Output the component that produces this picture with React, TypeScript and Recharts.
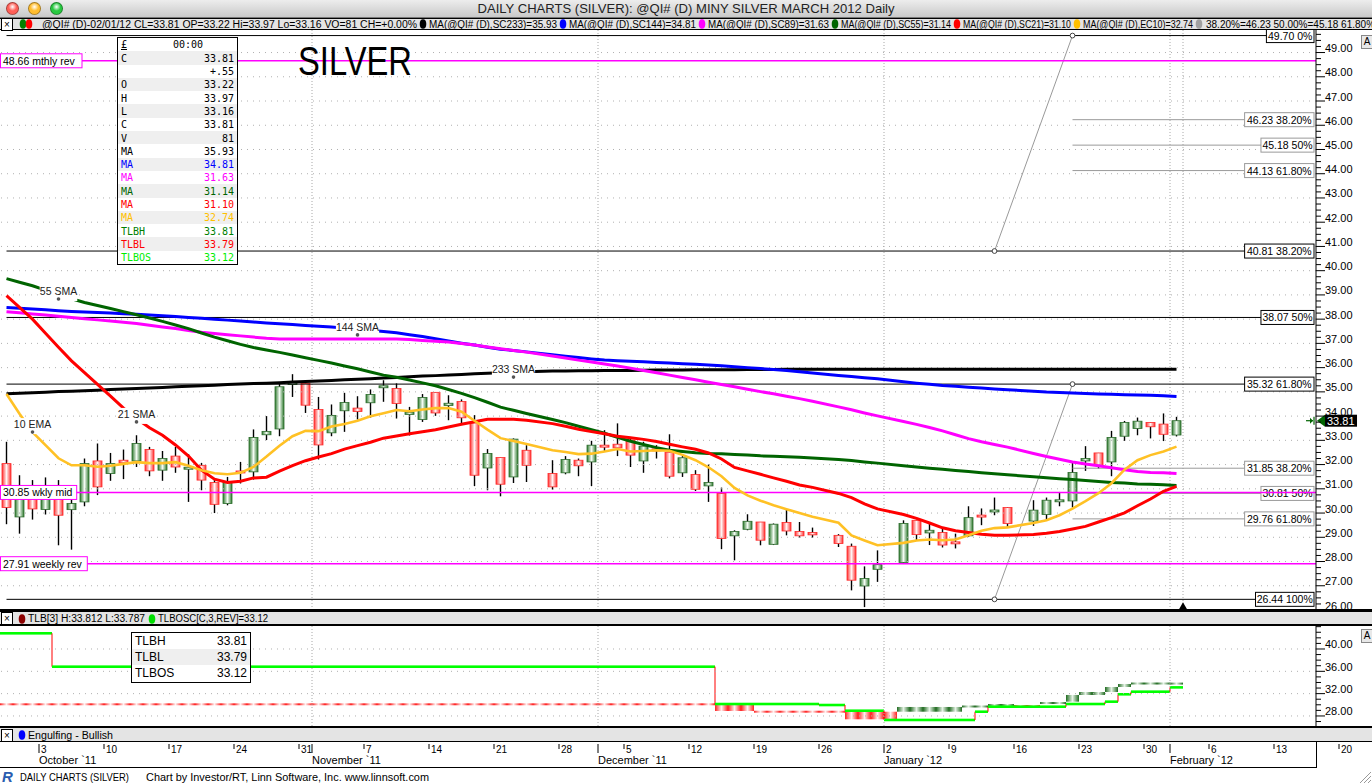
import React from 'react';
import { ComposedChart, Bar, Line, XAxis, YAxis, ReferenceLine, ReferenceDot } from 'recharts';

const FONT = '"Liberation Sans", Arial, sans-serif';
const MONO = '"DejaVu Sans Mono", monospace';

// one slot per weekday: slot 0 = Wed 28 Sep 2011, slot 90 = Wed 1 Feb 2012
// holiday slots (24 Nov, 26 Dec, 2 Jan, 16 Jan) stay empty
const opens = [
  32.04, 29.84, 30.64, 30.15, 30.64, 30.14, 30.46, 32.15, 31.63, 32.18,
  32.15, 32.62, 31.77, 32.35, 31.82, 31.97, 31.26, 30.39, 31.73, 31.70,
  33.23, 33.47, 35.32, 35.35, 34.27, 33.31, 34.22, 34.33, 34.55, 35.18,
  35.14, 34.07, 33.86, 34.98, 34.44, 34.60, 33.72, 31.86, 32.29, 31.49,
  32.59, null, 31.63, 31.66, 32.18, 32.11, 32.79, 32.84, 33.01, 32.15,
  32.64, 32.51, 31.66, 31.59, 31.12, 30.81, 29.06, 29.33, 29.63, 28.71,
  29.61, 29.24, 29.20, null, 29.08, 28.63, 26.99, 27.68, null, 27.96,
  29.70, 29.18, 29.20, 28.80, 29.06, 29.91, 30.05, 30.23, null, 29.67,
  29.94, 30.48, 30.50, 32.15, 32.48, 32.11, 33.17, 33.49, 33.74, 33.67,
  33.22,
];
const highs = [
  32.94, 31.56, 31.36, 31.47, 31.36, 30.67, 32.25, 32.87, 32.48, 32.62,
  33.21, 32.73, 32.56, 32.73, 32.43, 32.07, 31.36, 31.49, 32.11, 33.45,
  34.00, 35.37, 35.73, 35.48, 34.79, 34.48, 34.96, 34.82, 35.10, 35.48,
  35.35, 34.38, 34.91, 34.98, 34.86, 34.69, 34.04, 32.64, 32.29, 33.08,
  32.80, null, 32.18, 32.35, 32.25, 32.98, 33.42, 33.70, 33.14, 32.94,
  32.80, 33.25, 32.35, 31.77, 32.00, 31.05, 29.29, 29.95, 29.63, 29.57,
  30.15, 29.63, 29.40, null, 29.13, 28.74, 27.80, 28.46, null, 29.70,
  29.70, 29.63, 29.43, 29.15, 30.28, 30.19, 30.64, 30.25, null, 30.53,
  30.64, 30.87, 32.11, 32.76, 32.48, 33.39, 33.80, 33.94, 33.74, 34.11,
  33.97,
];
const lows = [
  29.54, 29.15, 29.73, 29.94, 28.67, 28.49, 30.28, 30.74, 31.33, 31.40,
  31.90, 31.52, 31.33, 31.66, 30.46, 30.94, 30.00, 30.32, 31.22, 31.38,
  33.01, 33.17, 34.79, 34.13, 32.21, 33.17, 33.35, 33.86, 33.94, 34.59,
  33.90, 33.20, 33.76, 34.01, 33.83, 33.63, 31.11, 30.94, 30.69, 31.24,
  31.28, null, 30.97, 31.60, 31.52, 31.11, 32.52, 32.35, 31.90, 31.66,
  32.25, 31.43, 31.49, 30.91, 30.46, 28.51, 28.05, 29.29, 28.67, 28.68,
  29.08, 28.97, 28.99, null, 28.60, 26.81, 26.12, 27.16, null, 27.94,
  28.88, 28.68, 28.58, 28.54, 29.01, 29.50, 29.91, 29.39, null, 29.47,
  29.70, 30.28, 30.23, 31.74, 31.84, 31.52, 32.98, 33.21, 33.08, 32.97,
  33.16,
];
const closes = [
  30.23, 30.64, 30.17, 30.64, 29.91, 30.39, 32.04, 31.08, 32.04, 32.07,
  32.87, 31.74, 32.25, 31.90, 31.88, 31.36, 30.36, 31.26, 31.66, 33.12,
  33.37, 35.21, 35.37, 34.45, 32.81, 34.03, 34.56, 34.19, 34.89, 35.24,
  34.52, 34.16, 34.77, 34.13, 34.53, 33.93, 31.56, 32.46, 31.19, 33.05,
  31.97, null, 31.08, 32.21, 31.95, 32.80, 32.73, 32.69, 32.39, 32.76,
  32.57, 31.52, 32.28, 30.98, 31.26, 28.95, 29.24, 29.66, 28.88, 29.54,
  29.26, 29.06, 29.10, null, 28.74, 27.23, 27.30, 27.87, null, 29.57,
  29.11, 29.29, 28.68, 28.74, 29.81, 29.84, 30.12, 29.57, null, 30.12,
  30.53, 30.53, 31.67, 32.25, 31.97, 33.12, 33.74, 33.79, 33.56, 33.25,
  33.81,
];
const ema10 = [
  34.91, 34.10, 33.34, 32.80, 32.26, 31.97, 31.97, 31.91, 31.95, 32.03,
  32.10, 32.06, 32.06, 32.10, 31.95, 31.77, 31.64, 31.60, 31.66, 31.90,
  32.33, 32.78, 33.17, 33.39, 33.38, 33.57, 33.67, 33.81, 33.99, 34.12,
  34.25, 34.20, 34.27, 34.33, 34.33, 34.18, 33.81, 33.44, 33.09, 32.97,
  32.85, null, 32.59, 32.52, 32.43, 32.45, 32.54, 32.64, 32.54, 32.56,
  32.59, 32.57, 32.40, 32.18, 31.89, 31.52, 31.04, 30.73, 30.51, 30.32,
  30.16, 30.00, 29.85, null, 29.60, 29.08, 28.87, 28.67, null, 28.77,
  28.87, 28.91, 28.88, 28.91, 29.08, 29.27, 29.38, 29.41, null, 29.59,
  29.70, 29.91, 30.18, 30.49, 30.82, 31.23, 31.79, 32.18, 32.39, 32.54,
  32.74,
];
const sma21 = [
  38.97, 38.49, 38.00, 37.42, 36.84, 36.28, 35.79, 35.31, 34.82, 34.33,
  33.90, 33.52, 33.21, 32.81, 32.35, 31.77, 31.40, 31.26, 31.31, 31.45,
  31.48, 31.73, 31.96, 32.16, 32.31, 32.45, 32.64, 32.78, 32.92, 33.09,
  33.18, 33.27, 33.35, 33.44, 33.55, 33.66, 33.77, 33.87, 33.87, 33.87,
  33.83, null, 33.69, 33.58, 33.46, 33.36, 33.27, 33.17, 33.11, 33.04,
  32.95, 32.84, 32.73, 32.63, 32.48, 32.23, 31.88, 31.74, 31.60, 31.45,
  31.31, 31.16, 31.06, null, 30.81, 30.64, 30.38, 30.17, null, 29.94,
  29.78, 29.59, 29.39, 29.27, 29.20, 29.13, 29.08, 29.08, null, 29.12,
  29.17, 29.24, 29.34, 29.45, 29.63, 29.81, 30.01, 30.30, 30.58, 30.90,
  31.10,
];
const sma55 = [
  39.67, 39.52, 39.38, 39.20, 39.02, 38.84, 38.69, 38.56, 38.44, 38.31,
  38.18, 38.05, 37.91, 37.76, 37.61, 37.43, 37.26, 37.11, 36.96, 36.83,
  36.73, 36.63, 36.52, 36.41, 36.30, 36.19, 36.07, 35.95, 35.82, 35.69,
  35.60, 35.49, 35.37, 35.25, 35.10, 34.94, 34.76, 34.57, 34.37, 34.24,
  34.11, null, 33.86, 33.73, 33.58, 33.44, 33.29, 33.12, 32.96, 32.83,
  32.70, 32.59, 32.54, 32.49, 32.46, 32.45, 32.42, 32.40, 32.36, 32.34,
  32.32, 32.30, 32.27, null, 32.21, 32.17, 32.11, 32.06, null, 31.95,
  31.90, 31.85, 31.81, 31.76, 31.71, 31.66, 31.62, 31.58, null, 31.50,
  31.46, 31.42, 31.38, 31.34, 31.30, 31.26, 31.24, 31.20, 31.19, 31.17,
  31.14,
];
const sma89 = [
  38.31, 38.26, 38.21, 38.17, 38.12, 38.07, 38.02, 37.97, 37.92, 37.87,
  37.82, 37.75, 37.68, 37.61, 37.53, 37.46, 37.41, 37.36, 37.31, 37.26,
  37.21, 37.18, 37.18, 37.18, 37.18, 37.18, 37.18, 37.18, 37.18, 37.18,
  37.18, 37.16, 37.12, 37.09, 37.06, 37.00, 36.93, 36.85, 36.78, 36.71,
  36.64, null, 36.48, 36.40, 36.31, 36.23, 36.15, 36.07, 35.98, 35.88,
  35.79, 35.69, 35.59, 35.50, 35.40, 35.30, 35.21, 35.11, 35.01, 34.92,
  34.82, 34.72, 34.61, null, 34.38, 34.26, 34.13, 34.01, null, 33.78,
  33.66, 33.53, 33.39, 33.23, 33.07, 32.94, 32.83, 32.72, null, 32.46,
  32.33, 32.22, 32.11, 32.02, 31.95, 31.87, 31.79, 31.71, 31.67, 31.66,
  31.63,
];
const sma144 = [
  38.48, 38.45, 38.42, 38.39, 38.35, 38.32, 38.30, 38.27, 38.25, 38.22,
  38.20, 38.17, 38.14, 38.11, 38.07, 38.04, 38.00, 37.96, 37.92, 37.88,
  37.84, 37.81, 37.78, 37.74, 37.71, 37.68, 37.63, 37.59, 37.54, 37.49,
  37.44, 37.36, 37.28, 37.19, 37.10, 37.01, 36.93, 36.84, 36.76, 36.71,
  36.65, null, 36.53, 36.47, 36.42, 36.36, 36.31, 36.28, 36.26, 36.24,
  36.21, 36.19, 36.16, 36.14, 36.11, 36.08, 36.04, 36.00, 35.96, 35.92,
  35.88, 35.83, 35.78, null, 35.68, 35.63, 35.58, 35.54, null, 35.42,
  35.36, 35.31, 35.26, 35.23, 35.19, 35.16, 35.12, 35.09, null, 35.03,
  34.99, 34.97, 34.95, 34.93, 34.91, 34.90, 34.88, 34.87, 34.86, 34.84,
  34.81,
];
const sma233 = [
  34.92, 34.94, 34.96, 34.98, 35.01, 35.03, 35.05, 35.07, 35.10, 35.12,
  35.14, 35.16, 35.18, 35.21, 35.23, 35.25, 35.27, 35.30, 35.32, 35.34,
  35.36, 35.38, 35.41, 35.43, 35.45, 35.47, 35.50, 35.52, 35.54, 35.57,
  35.59, 35.62, 35.65, 35.67, 35.70, 35.72, 35.75, 35.77, 35.79, 35.81,
  35.83, null, 35.86, 35.86, 35.87, 35.87, 35.88, 35.88, 35.88, 35.89,
  35.90, 35.90, 35.90, 35.91, 35.91, 35.91, 35.91, 35.92, 35.92, 35.92,
  35.93, 35.93, 35.93, null, 35.93, 35.93, 35.93, 35.93, null, 35.93,
  35.93, 35.93, 35.93, 35.93, 35.93, 35.93, 35.93, 35.93, null, 35.93,
  35.93, 35.93, 35.93, 35.93, 35.93, 35.93, 35.93, 35.93, 35.93, 35.93,
  35.93,
];

// three line break bricks: [first slot, last slot, low, high, up]
const tlbBricks = [
  [0, 54, 30.09, 30.09, false],
  [55, 57, 28.89, 29.96, false],
  [58, 64, 28.76, 28.76, false],
  [65, 68, 27.40, 28.76, false],
  [69, 73, 28.76, 29.61, true],
  [74, 75, 29.61, 29.78, true],
  [76, 77, 29.78, 30.14, true],
  [78, 79, 29.61, 29.96, false],
  [80, 81, 30.14, 30.50, true],
  [82, 82, 30.56, 31.76, true],
  [83, 84, 31.76, 32.29, true],
  [85, 85, 32.29, 33.19, true],
  [86, 86, 33.19, 33.73, true],
  [87, 89, 33.73, 33.90, true],
  [90, 90, 33.79, 33.81, true],
];
// TLB oscillator steps: [first slot, last slot, value]
const tlbosSteps = [
  [0, 3, 42.81], [4, 54, 36.83], [55, 62, 30.14], [63, 64, 29.96], [65, 67, 28.94],
  [68, 74, 27.28], [75, 75, 28.76], [76, 81, 29.66], [82, 84, 30.14], [85, 85, 30.56],
  [86, 86, 31.88], [87, 89, 32.35], [90, 90, 33.12],
];

const priceMajor = [26, 27, 28, 29, 30, 31, 32, 33, 34, 35, 36, 37, 38, 39, 40, 41, 42, 43, 44, 45, 46, 47, 48, 49];
const priceTicks = priceMajor.flatMap((v) => [v, v + 0.25, v + 0.5, v + 0.75]);
const tlbTicks = [27, 28, 29, 30, 31, 32, 33, 34, 35, 36, 37, 38, 39, 40, 41, 42, 43, 44];
const tlbMajor = [28, 32, 36, 40];

const weekTicks = [2.5, 7.5, 12.5, 17.5, 22.5, 27.5, 32.5, 37.5, 42.5, 47.5, 52.5, 57.5, 62.5, 67.5, 72.5, 77.5, 82.5, 87.5, 92.5, 97.5, 102.5];
const dayLabels = ['3', '10', '17', '24', '31', '7', '14', '21', '28', '5', '12', '19', '26', '2', '9', '16', '23', '30', '6', '13', '20'];
const monthTicks = [2.5, 23.5, 45.5, 67.5, 89.5];
const monthLabels = ['October `11', 'November `11', 'December `11', 'January `12', 'February `12'];
const monthLines = [23.5, 45.5, 67.5, 89.5, 90.5];

const blackFibs: [number, string][] = [[49.7, '49.70 0%'], [40.81, '40.81 38.20%'], [38.07, '38.07 50%'], [35.32, '35.32 61.80%'], [26.44, '26.44 100%']];
const grayFibs: [number, string][] = [[46.23, '46.23 38.20%'], [45.18, '45.18 50%'], [44.13, '44.13 61.80%'], [31.85, '31.85 38.20%'], [30.81, '30.81 50%'], [29.76, '29.76 61.80%']];
const pivots: [number, string][] = [[48.66, '48.66 mthly rev'], [30.85, '30.85 wkly mid'], [27.91, '27.91 weekly rev']];
const fibSwings = [[[76, 40.81], [82, 49.7]], [[76, 26.44], [82, 35.32]]];
const maTags: [number, number, string][] = [[4, 38.83, '55 SMA'], [27, 37.35, '144 SMA'], [39, 35.61, '233 SMA'], [10, 33.76, '21 SMA'], [2, 33.34, '10 EMA']];

const priceRows = opens.map((o, j) => ({
  j, o, h: highs[j], l: lows[j], c: closes[j],
  ema10: ema10[j], sma21: sma21[j], sma55: sma55[j], sma89: sma89[j], sma144: sma144[j], sma233: sma233[j],
}));

const tlbRows: any[] = [];
tlbBricks.forEach(([a, b, lo, hi, up]: any) => {
  for (let j = a; j <= b; j++) tlbRows[j] = { j, lo, hi, up };
});
tlbosSteps.forEach(([a, b, v]) => {
  for (let j = a; j <= b; j++) tlbRows[j].os = v;
});
tlbRows.forEach((r, j) => { r.prev = j === 0 ? r.os : tlbRows[j - 1].os; });

const dayByTick: Record<string, string> = {};
weekTicks.forEach((t, i) => { dayByTick[t] = dayLabels[i]; });
const monthByTick: Record<string, string> = {};
monthTicks.forEach((t, i) => { monthByTick[t] = monthLabels[i]; });
const dateTicks = Array.from(new Set([...weekTicks, ...monthTicks])).sort((a, b) => a - b);

function Candle(props: any) {
  const { x, y, width, height, payload } = props;
  if (!payload || payload.h == null) return null;
  const top = Math.min(y, y + height);
  const span = Math.abs(height);
  const { o, h, l, c } = payload;
  const py = (v: number) => top + ((h - v) / (h - l)) * span;
  const cx = x + width / 2;
  const up = c >= o;
  const bt = py(Math.max(o, c));
  const bb = py(Math.min(o, c));
  const thin = bb - bt < 2;
  return (
    <g>
      <line x1={cx} x2={cx} y1={top} y2={top + span} stroke="#000" strokeWidth={1.4} />
      <rect x={cx - 4.5} y={thin ? (bt + bb) / 2 - 1 : bt} width={9} height={thin ? 2 : bb - bt}
        fill={up ? 'url(#gUp)' : 'url(#gDn)'} stroke={up ? '#2b6b2b' : '#ff2a2a'} strokeWidth={0.8} />
    </g>
  );
}

function Brick(props: any) {
  const { x, y, width, height, payload } = props;
  const top = Math.min(y, y + height);
  const span = Math.abs(height);
  const thin = span < 2;
  return <rect x={x} y={thin ? top + span / 2 - 1 : top} width={width} height={thin ? 2 : span} fill={payload.up ? 'url(#bUp)' : 'url(#bDn)'} />;
}

function OscStep(props: any) {
  const { x, y, width, height, payload } = props;
  const top = Math.min(y, y + height);
  const span = Math.abs(height);
  const ly = payload.os >= payload.prev ? top : top + span;
  return (
    <g>
      {span > 1 && <line x1={x} x2={x} y1={top} y2={top + span} stroke="#ff0000" strokeWidth={1} />}
      <line x1={x} x2={x + width} y1={ly} y2={ly} stroke="#00ff00" strokeWidth={2.6} />
    </g>
  );
}

function PriceTick(props: any) {
  const { x, y, payload } = props;
  const v = payload.value;
  const major = Math.abs(v - Math.round(v)) < 0.01;
  return (
    <g>
      <line x1={x} x2={x + (major ? 9 : 5)} y1={y} y2={y} stroke="#000" />
      {major && <text x={x + 9} y={y - 0.5} fontSize={11} fontFamily={FONT} fill="#000">{v.toFixed(2)}</text>}
    </g>
  );
}

function TlbTick(props: any) {
  const { x, y, payload } = props;
  const v = payload.value;
  const major = tlbMajor.includes(v);
  return (
    <g>
      <line x1={x} x2={x + (major ? 9 : 5)} y1={y} y2={y} stroke="#000" />
      {major && <text x={x + 9} y={y - 0.5} fontSize={11} fontFamily={FONT} fill="#000">{v.toFixed(2)}</text>}
    </g>
  );
}

function DateTick(props: any) {
  const { x, y, payload } = props;
  const v = payload.value;
  const day = dayByTick[v];
  const month = monthByTick[v];
  return (
    <g>
      <line x1={x} x2={x} y1={y + 18} y2={y + (month ? 27 : 23)} stroke="#000" />
      {day && <text x={x + 2} y={y + 27} fontSize={10} fontFamily={FONT} fill="#000">{day}</text>}
      {month && <text x={x} y={y + 38} fontSize={11} fontFamily={FONT} fill="#000">{month}</text>}
    </g>
  );
}

function RightTag(props: any) {
  const { viewBox, text, color } = props;
  const right = viewBox.x + viewBox.width + 1;
  const y = viewBox.y;
  const w = text.length * 5.45 + 4;
  return (
    <g>
      <rect x={right - w} y={y - 7} width={w} height={14} fill="#fff" stroke={color} />
      <text x={right - w / 2} y={y + 4} textAnchor="middle" fontSize={10.5} fontFamily={FONT} fill="#000">{text}</text>
    </g>
  );
}

function LeftTag(props: any) {
  const { viewBox, text } = props;
  const w = text.length * 5.3 + 2;
  return (
    <g>
      <rect x={viewBox.x + 0.5} y={viewBox.y - 7} width={w} height={14} fill="#fff" stroke="#ff00ff" />
      <text x={viewBox.x + 3} y={viewBox.y + 4} fontSize={10.5} fontFamily={FONT} fill="#000">{text}</text>
    </g>
  );
}

function MaTag(props: any) {
  const { cx, cy, text } = props;
  const w = text.length * 5.6 + 4;
  return (
    <g>
      <rect x={cx - w / 2} y={cy - 14} width={w} height={16} fill="#fff" />
      <text x={cx} y={cy - 4} textAnchor="middle" fontSize={10.5} fontFamily={FONT} fill="#222">{text}</text>
      <circle cx={cx} cy={cy} r={1.8} fill="#555" />
    </g>
  );
}

function LastPrice(props: any) {
  const { cx, cy } = props;
  return (
    <g>
      <line x1={cx - 7} x2={cx} y1={cy} y2={cy} stroke="#006400" strokeWidth={1.2} />
      <line x1={cx + 1} x2={cx + 1} y1={cy - 4} y2={cy + 4} stroke="#006400" strokeWidth={1.2} />
      <polygon points={`${cx - 3},${cy - 3} ${cx},${cy} ${cx - 3},${cy + 3}`} fill="#006400" />
      <polygon points={`${cx + 4},${cy} ${cx + 12},${cy - 6} ${cx + 12},${cy + 6}`} fill="#006400" />
      <rect x={cx + 12} y={cy - 6} width={32} height={12} fill="#000" />
      <text x={cx + 14} y={cy + 4} fontSize={11} fontFamily={FONT} fill="#fff">33.81</text>
    </g>
  );
}

function NowMark(props: any) {
  const { cx, cy } = props;
  return <polygon points={`${cx},${cy - 4} ${cx - 4},${cy + 3} ${cx + 4},${cy + 3}`} fill="#000" />;
}

function AnchorDot(props: any) {
  return <circle cx={props.cx} cy={props.cy} r={2.4} fill="#fff" stroke="#444" strokeWidth={1} />;
}

function MainChart() {
  return (
    <ComposedChart width={1372} height={580} data={priceRows} margin={{ top: 0, right: 0, bottom: 0, left: 0 }}>
      <XAxis xAxisId="x" type="number" dataKey="j" domain={[-0.5, 100.73]} hide allowDataOverflow />
      <YAxis yAxisId="p" orientation="right" type="number" domain={[26, 49.93]} allowDataOverflow ticks={priceTicks}
        interval={0} width={56} tickSize={0} tickMargin={0} tickLine={false} axisLine={{ stroke: '#000' }} tick={<PriceTick />} />
      {priceMajor.slice(1).map((v) => (
        <ReferenceLine key={'g' + v} xAxisId="x" yAxisId="p" y={v} stroke="#b0b0b0" strokeDasharray="1 5" />
      ))}
      {monthLines.map((v) => (
        <ReferenceLine key={'m' + v} xAxisId="x" yAxisId="p" x={v} stroke="#a8a8a8" strokeDasharray="1 2" />
      ))}
      {grayFibs.map(([v, t]) => (
        <ReferenceLine key={'gf' + v} xAxisId="x" yAxisId="p" segment={[{ x: 82, y: v }, { x: 100.5, y: v }]}
          stroke="#9a9a9a" label={<RightTag text={t} color="#9a9a9a" />} />
      ))}
      {blackFibs.map(([v, t]) => (
        <ReferenceLine key={'bf' + v} xAxisId="x" yAxisId="p" segment={[{ x: 0, y: v }, { x: 100.5, y: v }]}
          stroke="#000" label={<RightTag text={t} color="#000" />} />
      ))}
      {fibSwings.map((s, i) => (
        <ReferenceLine key={'sw' + i} xAxisId="x" yAxisId="p" segment={[{ x: s[0][0], y: s[0][1] }, { x: s[1][0], y: s[1][1] }]} stroke="#999" />
      ))}
      {pivots.map(([v, t]) => (
        <ReferenceLine key={'pv' + v} xAxisId="x" yAxisId="p" y={v} stroke="#ff00ff" strokeWidth={1.5} label={<LeftTag text={t} />} />
      ))}
      <Line xAxisId="x" yAxisId="p" dataKey="sma233" stroke="#000" strokeWidth={3} dot={false} connectNulls isAnimationActive={false} />
      <Line xAxisId="x" yAxisId="p" dataKey="sma144" stroke="#0000ff" strokeWidth={3} dot={false} connectNulls isAnimationActive={false} />
      <Line xAxisId="x" yAxisId="p" dataKey="sma89" stroke="#ff00ff" strokeWidth={3} dot={false} connectNulls isAnimationActive={false} />
      <Line xAxisId="x" yAxisId="p" dataKey="sma55" stroke="#006400" strokeWidth={3} dot={false} connectNulls isAnimationActive={false} />
      <Line xAxisId="x" yAxisId="p" dataKey="sma21" stroke="#ff0000" strokeWidth={3} dot={false} connectNulls isAnimationActive={false} />
      <Line xAxisId="x" yAxisId="p" dataKey="ema10" stroke="#ffc125" strokeWidth={2.6} dot={false} connectNulls isAnimationActive={false} />
      <Bar xAxisId="x" yAxisId="p" dataKey={(d: any) => (d.h == null ? null : [d.l, d.h])} barSize={9}
        shape={<Candle />} isAnimationActive={false} />
      {maTags.map(([j, v, t]) => (
        <ReferenceDot key={t} xAxisId="x" yAxisId="p" x={j} y={v} shape={(p: any) => <MaTag {...p} text={t} />} />
      ))}
      {fibSwings.flat().map((p, i) => (
        <ReferenceDot key={'a' + i} xAxisId="x" yAxisId="p" x={p[0]} y={p[1]} shape={<AnchorDot />} />
      ))}
      <ReferenceDot xAxisId="x" yAxisId="p" x={100.5} y={33.81} shape={<LastPrice />} />
      <ReferenceDot xAxisId="x" yAxisId="p" x={90.5} y={26.15} shape={<NowMark />} />
    </ComposedChart>
  );
}

function TlbChart() {
  return (
    <ComposedChart width={1372} height={142} data={tlbRows} margin={{ top: 0, right: 0, bottom: 0, left: 0 }}>
      <XAxis xAxisId="d" type="number" dataKey="j" domain={[-0.5, 100.73]} allowDataOverflow ticks={dateTicks} interval={0}
        height={42} tickSize={0} tickMargin={0} tickLine={false} axisLine={false} tick={<DateTick />} />
      <XAxis xAxisId="b" type="number" dataKey="j" domain={[-0.5, 100.73]} allowDataOverflow hide height={0} />
      <YAxis yAxisId="t" orientation="right" type="number" domain={[26.2, 44.12]} allowDataOverflow ticks={tlbTicks}
        interval={0} width={56} tickSize={0} tickMargin={0} tickLine={false} axisLine={{ stroke: '#000' }} tick={<TlbTick />} />
      {tlbMajor.map((v) => (
        <ReferenceLine key={'g' + v} xAxisId="d" yAxisId="t" y={v} stroke="#b0b0b0" strokeDasharray="1 5" />
      ))}
      {monthLines.slice(0, 4).map((v) => (
        <ReferenceLine key={'m' + v} xAxisId="d" yAxisId="t" x={v} stroke="#a8a8a8" strokeDasharray="1 2" />
      ))}
      <Bar xAxisId="d" yAxisId="t" dataKey={(d: any) => [d.lo - 0.0001, d.hi]} barSize={13} shape={<Brick />} isAnimationActive={false} />
      <Bar xAxisId="b" yAxisId="t" dataKey={(d: any) => [Math.min(d.os, d.prev) - 0.0001, Math.max(d.os, d.prev)]} barSize={13}
        shape={<OscStep />} isAnimationActive={false} />
    </ComposedChart>
  );
}

const legendRows: [string, string, string][] = [
  ['C', '33.81', '#000'], ['', '+.55', '#000'], ['O', '33.22', '#000'], ['H', '33.97', '#000'], ['L', '33.16', '#000'],
  ['C', '33.81', '#000'], ['V', '81', '#000'], ['MA', '35.93', '#000'], ['MA', '34.81', '#0000ff'], ['MA', '31.63', '#ff00ff'],
  ['MA', '31.14', '#006400'], ['MA', '31.10', '#ff0000'], ['MA', '32.74', '#ffc000'], ['TLBH', '33.81', '#008000'],
  ['TLBL', '33.79', '#ff0000'], ['TLBOS', '33.12', '#00ee00'],
];

// header bar entries: [dot x, text start, text end, dot colour, text]
const headerItems: [number | null, number, number | null, string | null, string][] = [
  [null, 42, 417, null, '@QI# (D)-02/01/12 CL=33.81 OP=33.22 Hi=33.97 Lo=33.16 VO=81 CH=+0.00%'],
  [423, 429, 557, '#000', 'MA(@QI# (D),SC233)=35.93'],
  [563, 569, 696, '#0000ff', 'MA(@QI# (D),SC144)=34.81'],
  [702, 708, 829, '#ff00ff', 'MA(@QI# (D),SC89)=31.63'],
  [835, 841, 951, '#006400', 'MA(@QI# (D),SC55)=31.14'],
  [957, 963, 1071, '#ff0000', 'MA(@QI# (D),SC21)=31.10'],
  [1077, 1083, 1193, '#ffc000', 'MA(@QI# (D),EC10)=32.74'],
  [1199, 1206, null, '#a0a0a0', '38.20%=46.23 50.00%=45.18 61.80%=44.13'],
];

const abs = (l: number, t: number, w: number, h: number, extra: any = {}) =>
  ({ position: 'absolute' as const, left: l, top: t, width: w, height: h, ...extra });

function XBox({ y }: { y: number }) {
  return (
    <div style={abs(1, y, 10, 11, { border: '1px solid #000', background: '#fff', fontSize: 10, lineHeight: '11px', textAlign: 'center', fontFamily: FONT })}>×</div>
  );
}

function ABox({ y }: { y: number }) {
  return (
    <div style={abs(1361, y, 10, 12, { border: '1px solid #888', background: '#e8e8e8', fontSize: 10, lineHeight: '12px', textAlign: 'center', fontFamily: FONT })}>A</div>
  );
}

function T({ x, y, s, size = 10, w, fill = '#000', ...rest }: any) {
  return (
    <text x={x} y={y} fontSize={size} fontFamily={FONT} fill={fill}
      {...(w ? { textLength: w, lengthAdjust: 'spacingAndGlyphs' } : {})} {...rest}>{s}</text>
  );
}

function Pill({ x, y, c }: any) {
  return <ellipse cx={x} cy={y} rx={3.3} ry={4.8} fill={c} />;
}

export default function App() {
  return (
    <div style={{ position: 'absolute', left: 0, top: 0, width: 1372, height: 784, overflow: 'hidden', background: '#fff', fontFamily: FONT }}>
      <svg width={0} height={0} style={{ position: 'absolute' }}>
        <defs>
          <linearGradient id="gUp" x1="0" x2="1" y1="0" y2="0">
            <stop offset="0" stopColor="#2e7a2e" />
            <stop offset="0.5" stopColor="#f4fbf4" />
            <stop offset="1" stopColor="#2e7a2e" />
          </linearGradient>
          <linearGradient id="gDn" x1="0" x2="1" y1="0" y2="0">
            <stop offset="0" stopColor="#ff3030" />
            <stop offset="0.5" stopColor="#fff4f4" />
            <stop offset="1" stopColor="#ff3030" />
          </linearGradient>
          <linearGradient id="bUp" x1="0" x2="1" y1="0" y2="0">
            <stop offset="0" stopColor="#1f6a1f" />
            <stop offset="0.5" stopColor="#e6f3e6" />
            <stop offset="1" stopColor="#1f6a1f" />
          </linearGradient>
          <linearGradient id="bDn" x1="0" x2="1" y1="0" y2="0">
            <stop offset="0" stopColor="#ff1e1e" />
            <stop offset="0.5" stopColor="#fff0f0" />
            <stop offset="1" stopColor="#ff1e1e" />
          </linearGradient>
        </defs>
      </svg>

      <div style={abs(0, 30, 1372, 580)}><MainChart /></div>
      <div style={abs(0, 626, 1372, 142)}><TlbChart /></div>

      {/* title bar */}
      <div style={abs(0, 0, 1372, 18, { background: 'linear-gradient(#ededed, #c9c9c9)', borderBottom: '1px solid #777', boxSizing: 'border-box' })} />
      {[['#ff5f57', 6], ['#ffbd2e', 28], ['#28c940', 50]].map(([c, x]) => (
        <div key={c as string} style={abs(x as number, 2, 13, 13, { borderRadius: '50%', background: `radial-gradient(circle at 50% 35%, #fff 0%, ${c} 45%, ${c} 100%)`, border: '1px solid rgba(0,0,0,0.35)', boxSizing: 'border-box' })} />
      ))}

      {/* legend bar */}
      <div style={abs(0, 18, 1372, 12, { background: '#e4e4e4', borderTop: '1px solid #000', borderBottom: '1px solid #000', boxSizing: 'border-box' })} />
      <XBox y={18} />

      {/* price legend box */}
      <div style={abs(117, 37, 121, 228, { border: '1px solid #000', background: '#fff', fontFamily: MONO, fontSize: 10, boxSizing: 'border-box' })}>
        <div style={{ height: 13.3, position: 'relative' }}>
          <span style={{ position: 'absolute', left: 3, top: 1, textDecoration: 'underline' }}>£</span>
          <span style={{ position: 'absolute', left: 55, top: 1 }}>00:00</span>
        </div>
        {legendRows.map(([k, v, c], i) => (
          <div key={i} style={{ height: 13.3, position: 'relative', background: i % 2 === 0 ? '#efefef' : '#fff', color: c }}>
            <span style={{ position: 'absolute', left: 3, top: 1.5 }}>{k}</span>
            <span style={{ position: 'absolute', right: 3, top: 1.5 }}>{v}</span>
          </div>
        ))}
      </div>
      <ABox y={35} />

      {/* TLB header */}
      <div style={abs(0, 609, 1372, 3, { background: '#000' })} />
      <div style={abs(0, 612, 1372, 12, { background: '#e4e4e4' })} />
      <div style={abs(0, 624, 1372, 2, { background: '#000' })} />
      <XBox y={612} />
      <ABox y={629} />

      <div style={abs(131, 632, 120, 51, { border: '1px solid #000', background: '#fff', fontSize: 12, fontFamily: FONT, boxSizing: 'border-box' })}>
        {[['TLBH', '33.81'], ['TLBL', '33.79'], ['TLBOS', '33.12']].map(([k, v], i) => (
          <div key={k} style={{ height: 16, position: 'relative', background: i === 1 ? '#efefef' : '#fff' }}>
            <span style={{ position: 'absolute', left: 3, top: 1 }}>{k}</span>
            <span style={{ position: 'absolute', right: 3, top: 1 }}>{v}</span>
          </div>
        ))}
      </div>

      {/* engulfing panel header */}
      <div style={abs(0, 726, 1372, 2, { background: '#000' })} />
      <div style={abs(0, 728, 1372, 14, { background: '#e4e4e4', borderBottom: '1px solid #000', boxSizing: 'border-box' })} />
      <XBox y={729} />

      {/* date axis frame */}
      <div style={abs(0, 767, 1316, 1, { background: '#000' })} />
      <div style={abs(1316, 742, 1, 26, { background: '#000' })} />

      {/* texts on bars, title, footer */}
      <svg style={abs(0, 0, 1372, 784, { pointerEvents: 'none', overflow: 'hidden' })}>
        <T x={686} y={13} s="DAILY CHARTS (SILVER): @QI# (D) MINY SILVER MARCH 2012 Daily" size={13} textAnchor="middle" fill="#222" w={417} />
        <Pill x={23} y={24} c="#008000" />
        <Pill x={29} y={24} c="#ff0000" />
        {headerItems.map(([dx, x0, x1, c, s]) => (
          <React.Fragment key={s}>
            {c && dx != null && <Pill x={dx} y={24} c={c} />}
            <T x={x0} y={27.5} s={s} size={10} w={x1 != null ? x1 - x0 : undefined} />
          </React.Fragment>
        ))}
        <T x={298} y={75} s="SILVER" size={41} w={114} />
        <Pill x={22} y={619} c="#8b0000" />
        <T x={28} y={622} s="TLB[3] H:33.812 L:33.787" size={10} w={117} />
        <Pill x={152} y={619} c="#00dd00" />
        <T x={158} y={622} s="TLBOSC[C,3,REV]=33.12" size={10} w={110} />
        <Pill x={22} y={735} c="#0000ff" />
        <T x={28} y={739} s="Engulfing - Bullish" size={10} w={85} />
        <T x={2} y={782} s="R" size={15} fill="#2a5db0" fontWeight="bold" fontStyle="italic" />
        <T x={20} y={781} s="DAILY CHARTS (SILVER)" size={11} w={109} />
        <T x={146} y={781} s="Chart by Investor/RT, Linn Software, Inc. www.linnsoft.com" size={11} w={283} />
        <line x1={1360} y1={783} x2={1371} y2={772} stroke="#999" />
        <line x1={1364} y1={783} x2={1371} y2={776} stroke="#999" />
        <line x1={1368} y1={783} x2={1371} y2={780} stroke="#999" />
      </svg>
    </div>
  );
}
